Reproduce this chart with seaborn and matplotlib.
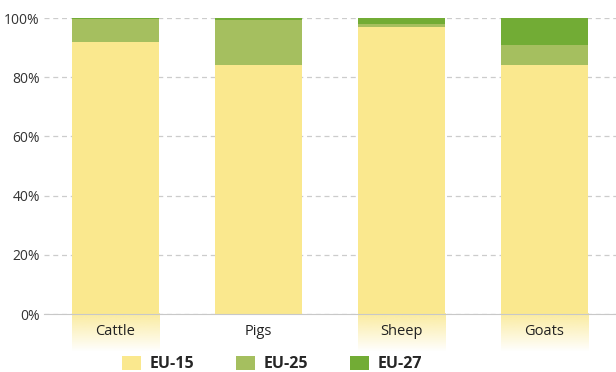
import numpy as np
import pandas as pd
import seaborn as sns
from matplotlib import pyplot as plt
from matplotlib.patches import Patch
from matplotlib.colors import to_rgb

# Share of livestock by EU enlargement stage (%)
categories = ['Cattle', 'Pigs', 'Sheep', 'Goats']
eu15 = [92.0, 84.0, 97.0, 84.0]
eu25 = [7.7, 15.3, 1.0, 7.0]
eu27 = [0.3, 0.7, 2.0, 9.0]
series = ['EU-15', 'EU-25', 'EU-27']
colors = ['#FAE88E', '#A5BF5F', '#72AC35']
glow = [True, False, True, True]

sns.set_style('white')
plt.rcParams['font.family'] = ['Open Sans', 'DejaVu Sans']

df = pd.DataFrame({'category': categories, 'EU-15': eu15, 'EU-25': eu25, 'EU-27': eu27})
# cumulative tops for stacking
df['c15'] = df['EU-15']
df['c25'] = df['c15'] + df['EU-25']
df['c27'] = df['c25'] + df['EU-27']

fig = plt.figure(figsize=(6.16, 3.72), dpi=100)
ax = fig.add_axes([44 / 616, 58 / 372, 1 - 44 / 616, 296 / 372])

width = 0.612
for col, color in zip(['c27', 'c25', 'c15'], colors[::-1]):
    sns.barplot(data=df, x='category', y=col, color=color, width=width,
                saturation=1, linewidth=0, ax=ax, zorder=2)

# fading reflection below the axis
rgb = to_rgb(colors[0])
grad = np.zeros((50, 1, 4))
grad[:, 0, :3] = rgb
grad[:, 0, 3] = np.linspace(0.85, 0.0, 50)
for i, g in enumerate(glow):
    if g:
        ax.imshow(grad, extent=(i - width / 2, i + width / 2, -13, 0), aspect='auto',
                  origin='upper', clip_on=False, zorder=0)

ax.set_xlim(-0.5, 3.5)
ax.set_ylim(0, 100)
ax.set_yticks([0, 20, 40, 60, 80, 100])
ax.set_yticklabels([f'{v}%' for v in [0, 20, 40, 60, 80, 100]])
ax.set_xlabel('')
ax.set_ylabel('')
ax.yaxis.grid(True, color='#cccccc', linestyle=(0, (4, 3)), linewidth=0.9, zorder=0)
ax.set_axisbelow(True)
for s in ['left', 'right', 'top']:
    ax.spines[s].set_visible(False)
ax.spines['bottom'].set_color('#c8c8c8')
ax.tick_params(axis='y', length=0, labelsize=10, labelcolor='#333333', pad=3)
ax.tick_params(axis='x', length=0, labelsize=10.5, labelcolor='#222222', pad=7)

handles = [Patch(facecolor=c, edgecolor='none') for c in colors]
fig.legend(handles, series, loc='center', ncol=3, frameon=False,
           bbox_to_anchor=(0.442, 0.022), prop={'weight': 'bold', 'size': 11.5},
           handlelength=1.2, handleheight=1.0, columnspacing=2.6, handletextpad=0.55)

fig.savefig('out.png', dpi=100)
